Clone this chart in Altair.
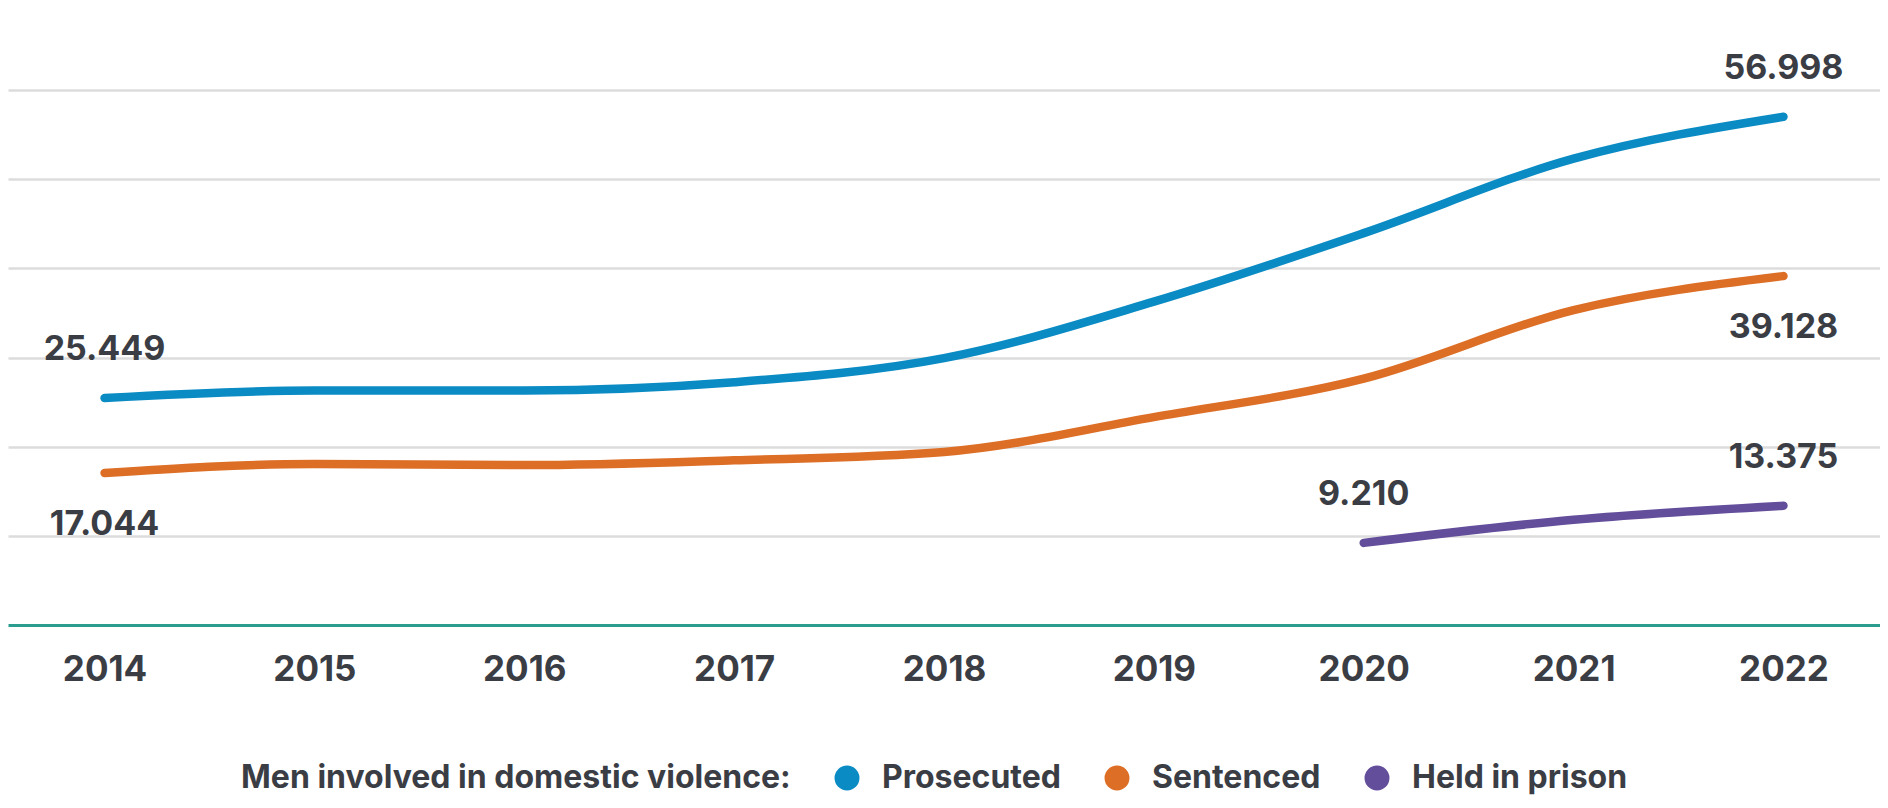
import altair as alt
import pandas as pd

years = [2014, 2015, 2016, 2017, 2018, 2019, 2020, 2021, 2022]
prosecuted = [25449, 26290, 26300, 27230, 29930, 36260, 43950, 52300, 56998]
sentenced = [17044, 18060, 17930, 18470, 19410, 23320, 27630, 35320, 39128]
held_years = [2020, 2021, 2022]
held = [9210, 11800, 13375]

series_names = ["Prosecuted", "Sentenced", "Held in prison"]
series_colors = ["#0a8bc4", "#dd6e26", "#634e9b"]

label_series = ["Prosecuted", "Sentenced", "Prosecuted", "Sentenced", "Held in prison", "Held in prison"]
label_years = [2014, 2014, 2022, 2022, 2020, 2022]
label_values = [25449, 17044, 56998, 39128, 9210, 13375]
label_pos = ["above", "below", "above", "below", "above", "above"]

rows = []
for y, v in zip(years, prosecuted):
    rows.append({"year": y, "value": v, "series": "Prosecuted"})
for y, v in zip(years, sentenced):
    rows.append({"year": y, "value": v, "series": "Sentenced"})
for y, v in zip(held_years, held):
    rows.append({"year": y, "value": v, "series": "Held in prison"})
df = pd.DataFrame(rows)

labels = pd.DataFrame({
    "series": label_series,
    "year": label_years,
    "value": label_values,
    "pos": label_pos,
})
labels["label"] = labels["value"].map(lambda v: f"{v:,}".replace(",", "."))

FONT = "Inter"
TXT = "#3b3d45"

x_enc = alt.X(
    "year:O",
    scale=alt.Scale(type="point", padding=0.46),
    axis=alt.Axis(
        title=None, ticks=False, grid=False,
        domainColor="#2a9d8f", domainWidth=3,
        labelFont=FONT, labelFontSize=35, labelFontWeight="bold",
        labelColor=TXT, labelPadding=44, labelBaseline="middle", labelAngle=0,
    ),
)
y_enc = alt.Y(
    "value:Q",
    scale=alt.Scale(domain=[0, 60000], nice=False),
    axis=alt.Axis(
        title=None, labels=False, ticks=False, domain=False,
        values=[10000, 20000, 30000, 40000, 50000, 60000],
        gridColor="#dcdcdc", gridWidth=2.5,
    ),
)

legend = alt.Legend(
    title="Men involved in domestic violence:",
    orient="none", legendX=233, legendY=672,
    direction="horizontal", titleOrient="left",
    titleFont=FONT, titleFontSize=32, titleFontWeight="bold", titleColor=TXT,
    titlePadding=40, titleBaseline="middle", titleLimit=2000,
    labelFont=FONT, labelFontSize=32, labelFontWeight="bold", labelColor=TXT,
    labelLimit=1000,
    symbolType="circle", symbolSize=550,
    columnPadding=40, labelOffset=19,
)

color_enc = alt.Color(
    "series:N",
    scale=alt.Scale(domain=series_names, range=series_colors),
    legend=legend,
)

lines = alt.Chart(df).mark_line(
    interpolate="monotone", strokeCap="round", strokeWidth=8.5
).encode(
    x=x_enc,
    y=y_enc,
    color=color_enc,
    detail="series:N",
)

# small filled dots hidden under the lines, so that the legend symbols are filled
points = alt.Chart(df).mark_point(filled=True, size=20, opacity=1).encode(
    x="year:O",
    y="value:Q",
    color=color_enc,
)

above = alt.Chart(labels).transform_filter(alt.datum.pos == "above").mark_text(
    font=FONT, fontSize=34, fontWeight="bold", color=TXT, dy=-48, baseline="middle"
).encode(x="year:O", y="value:Q", text="label:N")

below = alt.Chart(labels).transform_filter(alt.datum.pos == "below").mark_text(
    font=FONT, fontSize=34, fontWeight="bold", color=TXT, dy=52, baseline="middle"
).encode(x="year:O", y="value:Q", text="label:N")

chart = alt.layer(lines, points, above, below).properties(
    width=1872, height=535,
    padding={"left": 0, "top": 82, "right": 0, "bottom": 175},
    autosize=alt.AutoSizeParams(type="none"),
).configure_view(stroke=None)

chart.save("out.html", embed_options={"renderer": "svg", "actions": False})
